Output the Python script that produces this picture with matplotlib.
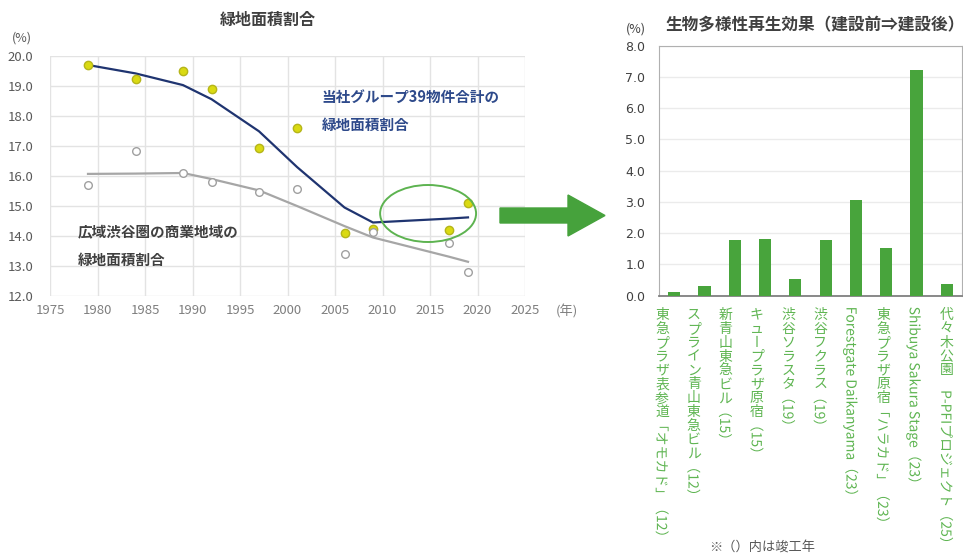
import numpy as np
import matplotlib.pyplot as plt
from matplotlib.patches import Ellipse, Polygon, PathPatch
from matplotlib.textpath import TextPath, TextToPath
from matplotlib.transforms import Affine2D
from matplotlib.font_manager import FontProperties

plt.rcParams['font.family'] = ['Noto Sans CJK JP', 'DejaVu Sans']

# 左: 緑地面積割合
years = [1979, 1984, 1989, 1992, 1997, 2001, 2006, 2009, 2017, 2019]
tokyu_pts = [19.7, 19.25, 19.5, 18.9, 16.95, 17.6, 14.1, 14.25, 14.2, 15.1]
tokyu_trend = [19.7, 19.42, 19.03, 18.56, 17.49, 16.3, 14.95, 14.45, 14.58, 14.62]
area_pts = [15.7, 16.82, 16.1, 15.8, 15.48, 15.58, 13.41, 14.14, 13.78, 12.8]
area_trend = [16.07, 16.08, 16.1, 15.9, 15.52, 15.0, 14.33, 13.95, 13.31, 13.14]

# 右: 生物多様性再生効果
projects = ['東急プラザ表参道「オモカド」（12）', 'スプライン青山東急ビル（12）',
            '新青山東急ビル（15）', 'キュープラザ原宿（15）', '渋谷ソラスタ（19）',
            '渋谷フクラス（19）', 'Forestgate Daikanyama（23）',
            '東急プラザ原宿「ハラカド」（23）', 'Shibuya Sakura Stage（23）',
            '代々木公園　P-PFIプロジェクト（25）']
effect = [0.11, 0.30, 1.77, 1.80, 0.52, 1.77, 3.05, 1.54, 7.22, 0.38]

W, H = 963, 556
fig = plt.figure(figsize=(W / 100, H / 100), dpi=100)

# ---- left chart ----
ax1 = fig.add_axes([50 / W, 1 - 296 / H, 475 / W, 240 / H])
ax1.plot(years, tokyu_trend, color='#1F3470', lw=1.6, zorder=3)
ax1.plot(years, area_trend, color='#A6A6A6', lw=1.6, zorder=3)
ax1.plot(years, tokyu_pts, 'o', ms=6, mfc='#DADA12', mec='#B5B51A', mew=1, zorder=4, ls='none')
ax1.plot(years, area_pts, 'o', ms=5.5, mfc='white', mec='#A0A0A0', mew=1, zorder=4, ls='none')
ax1.set_xlim(1975, 2025)
ax1.set_ylim(12, 20)
ax1.set_xticks(np.arange(1975, 2026, 5))
ax1.set_yticks(np.arange(12, 20.1, 1))
ax1.yaxis.set_major_formatter(plt.FormatStrFormatter('%.1f'))
ax1.grid(True, color='#E3E3E3', lw=1)
ax1.set_axisbelow(True)
for s in ax1.spines.values():
    s.set_visible(False)
ax1.tick_params(length=0)
ax1.tick_params(axis='y', pad=12, labelsize=9.5, labelcolor='#595959')
ax1.tick_params(axis='x', pad=6, labelsize=9.5, labelcolor='#7F7F7F')
ax1.add_patch(Ellipse((2014.8, 14.75), 10.1, 1.9, fill=False, ec='#5DB350', lw=1.4, zorder=5))
ax1.text(2003.6, 18.63, '当社グループ39物件合計の', color='#2E4A8B', fontsize=10.5,
         fontweight='bold', va='center')
ax1.text(2003.6, 17.69, '緑地面積割合', color='#2E4A8B', fontsize=10.5,
         fontweight='bold', va='center')
ax1.text(1977.9, 14.15, '広域渋谷圏の商業地域の', color='#404040', fontsize=10.5,
         fontweight='bold', va='center')
ax1.text(1977.9, 13.21, '緑地面積割合', color='#404040', fontsize=10.5,
         fontweight='bold', va='center')

# ---- right chart ----
ax2 = fig.add_axes([659 / W, 1 - 295.7 / H, 303 / W, 250 / H])
x = np.arange(len(projects))
ax2.bar(x, effect, width=0.4, color='#48A43C', zorder=3)
ax2.set_xlim(-0.5, len(projects) - 0.5)
ax2.set_ylim(0, 8)
ax2.set_yticks(np.arange(0, 8.1, 1))
ax2.yaxis.set_major_formatter(plt.FormatStrFormatter('%.1f'))
ax2.set_xticks([])
ax2.grid(axis='y', color='#EBEBEB', lw=1)
ax2.set_axisbelow(True)
for k in ['top', 'right', 'left']:
    ax2.spines[k].set_color('#B0B0B0')
ax2.spines['bottom'].set_color('#808080')
ax2.spines['bottom'].set_linewidth(1.3)
ax2.tick_params(length=0)
ax2.tick_params(axis='y', pad=10, labelsize=9, labelcolor='#404040')
for lab in ax2.get_yticklabels():
    lab.set_family('DejaVu Sans')

# 縦書きラベル: 漢字・かなは正立、英数字・括弧とそれに続くカタカナは横倒し
fs = 10
ASC = 0.88  # Noto Sans CJK ascender (em)
LABEL_COLOR = '#5FB552'
fp = FontProperties(family='Noto Sans CJK JP', size=fs)
t2p = TextToPath()
px = fig.dpi / 72


def split_pieces(s):
    pieces = []
    mode = False
    for ch in s:
        if ch == '「' or (ord(ch) < 128 and ch.isalnum()):
            mode, rot = True, True
        elif ch == '」':
            mode, rot = False, True
        elif 0x30A0 <= ord(ch) <= 0x30FF:
            rot = mode or ch == 'ー'
        elif ord(ch) < 128 or ch in '（）　':
            rot = True
        else:
            mode, rot = False, False
        if pieces and pieces[-1][1] and rot:
            pieces[-1][0] += ch
        else:
            pieces.append([ch, rot])
    return pieces


def vertical_label(i, s):
    X0, Y0 = ax2.transData.transform((i, 0))
    cx = X0 - 12 + 1.3 * i
    cur = Y0 - 11
    em = fs * px
    for txt, rot in split_pieces(s):
        if rot:
            w = t2p.get_text_width_height_descent(txt, fp, ismath=False)[0]
            path = TextPath((0, 0), txt, size=fs, prop=fp)
            tr = Affine2D().rotate_deg(-90).scale(px).translate(cx - (ASC - 0.5) * em, cur)
            fig.add_artist(PathPatch(path, transform=tr, fc=LABEL_COLOR, ec='none', lw=0))
            cur -= w * px
        else:
            fig.text(cx / W, (cur - ASC * em) / H, txt, ha='center', va='baseline',
                     fontsize=fs, color=LABEL_COLOR)
            cur -= em


for i, p in enumerate(projects):
    vertical_label(i, p)

# ---- overlay: titles, units, arrow ----
ov = fig.add_axes([0, 0, 1, 1], facecolor='none')
ov.set_xlim(0, W)
ov.set_ylim(H, 0)
ov.axis('off')
ov.text(268, 20, '緑地面積割合', ha='center', va='center', fontsize=11.5,
        fontweight='bold', color='#404040')
ov.text(22, 38, '(%)', ha='center', va='center', fontsize=9, color='#595959')
ov.text(567, 311, '(年)', ha='center', va='center', fontsize=9.5, color='#7F7F7F')
ov.text(636, 29, '(%)', ha='center', va='center', fontsize=9, color='#404040')
ov.text(665, 25, '生物多様性再生効果（建設前⇒建設後）', ha='left', va='center',
        fontsize=12, fontweight='bold', color='#404040')
ov.text(762, 555, '※（）内は竣工年', ha='center', va='bottom', fontsize=9.5, color='#595959')
ov.add_patch(Polygon([(500, 208), (568, 208), (568, 195), (605, 215.5), (568, 236),
                      (568, 223), (500, 223)], closed=True, color='#46A23C'))

fig.savefig('out.png', dpi=100)
